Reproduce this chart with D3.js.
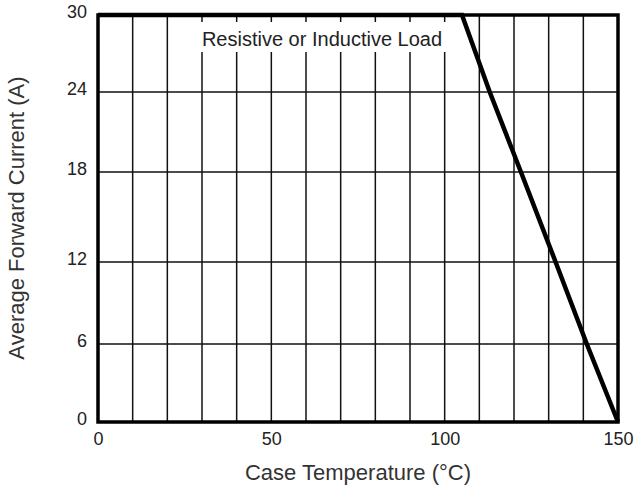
<!DOCTYPE html>
<html>
<head>
<meta charset="utf-8">
<script src="https://cdn.jsdelivr.net/npm/d3@7"></script>
<style>
  body { margin: 0; background: #fff; }
  text { font-family: "Liberation Sans", Arial, sans-serif; }
</style>
</head>
<body>
<script>
// data
var temps = [0, 105, 113, 122, 132, 141, 150];
var current = [30, 30, 24, 18, 12, 6, 0];
var xTicks = [0, 50, 100, 150];
var xGrid = d3.range(0, 151, 10);
var yTicks = [0, 6, 12, 18, 24, 30];
var yPix = [422, 344, 262, 172, 92, 15]; // scanned grid is a bit uneven

var W = 634, H = 497;
var pLeft = 98, pRight = 618, pTop = 15, pBottom = 422;

var svg = d3.select("body").append("svg")
    .attr("width", W)
    .attr("height", H);

var x = d3.scaleLinear().domain([0, 150]).range([pLeft, pRight]);
var y = d3.scaleLinear().domain(yTicks).range(yPix);

// vertical grid
svg.append("g")
    .selectAll("line")
    .data(xGrid)
    .enter()
    .append("line")
    .attr("x1", function(d){return x(d);})
    .attr("x2", function(d){return x(d);})
    .attr("y1", pTop)
    .attr("y2", pBottom)
    .attr("stroke", "#111")
    .attr("stroke-width", 1.5);

// horizontal grid
svg.append("g")
    .selectAll("line")
    .data(yTicks)
    .enter()
    .append("line")
    .attr("x1", pLeft)
    .attr("x2", pRight)
    .attr("y1", function(d){return y(d);})
    .attr("y2", function(d){return y(d);})
    .attr("stroke", "#111")
    .attr("stroke-width", 1.5);

// label with white box
var boxG = svg.append("g");
var lab = svg.append("text")
    .attr("x", 322)
    .attr("y", 46)
    .attr("text-anchor", "middle")
    .attr("font-size", 20)
    .attr("fill", "#222")
    .text("Resistive or Inductive Load");
var bb = lab.node().getBBox();
boxG.append("rect")
    .attr("x", bb.x - 4)
    .attr("y", 22)
    .attr("width", bb.width + 8)
    .attr("height", 30)
    .attr("fill", "#fff");

// frame
svg.append("rect")
    .attr("x", pLeft)
    .attr("y", pTop)
    .attr("width", pRight - pLeft)
    .attr("height", pBottom - pTop)
    .attr("fill", "none")
    .attr("stroke", "#000")
    .attr("stroke-width", 3.5);

// curve
var pts = temps.map(function(t, i){return [t, current[i]];});
var line = d3.line()
    .x(function(d){return x(d[0]);})
    .y(function(d){return y(d[1]);});
svg.append("path")
    .datum(pts)
    .attr("d", line)
    .attr("fill", "none")
    .attr("stroke", "#000")
    .attr("stroke-width", 4.5)
    .attr("stroke-linejoin", "miter");

// axes labels
var xAxis = svg.append("g")
    .attr("transform", "translate(0," + (pBottom + 7) + ")")
    .call(d3.axisBottom(x).tickValues(xTicks).tickSize(0).tickFormat(d3.format("d")));
xAxis.select(".domain").remove();
xAxis.selectAll("text")
    .attr("font-size", 18)
    .attr("font-family", "Liberation Sans, Arial, sans-serif")
    .attr("fill", "#222");

var yAxis = svg.append("g")
    .attr("transform", "translate(" + (pLeft - 8) + ",-3)")
    .call(d3.axisLeft(y).tickValues(yTicks).tickSize(0).tickFormat(d3.format("d")));
yAxis.select(".domain").remove();
yAxis.selectAll("text")
    .attr("font-size", 18)
    .attr("font-family", "Liberation Sans, Arial, sans-serif")
    .attr("fill", "#222");

svg.append("text")
    .attr("x", 358)
    .attr("y", 480)
    .attr("text-anchor", "middle")
    .attr("font-size", 22)
    .attr("fill", "#333")
    .text("Case Temperature (\u00B0C)");

svg.append("text")
    .attr("transform", "translate(24,218) rotate(-90)")
    .attr("text-anchor", "middle")
    .attr("font-size", 22)
    .attr("fill", "#333")
    .text("Average Forward Current (A)");
</script>
</body>
</html>
